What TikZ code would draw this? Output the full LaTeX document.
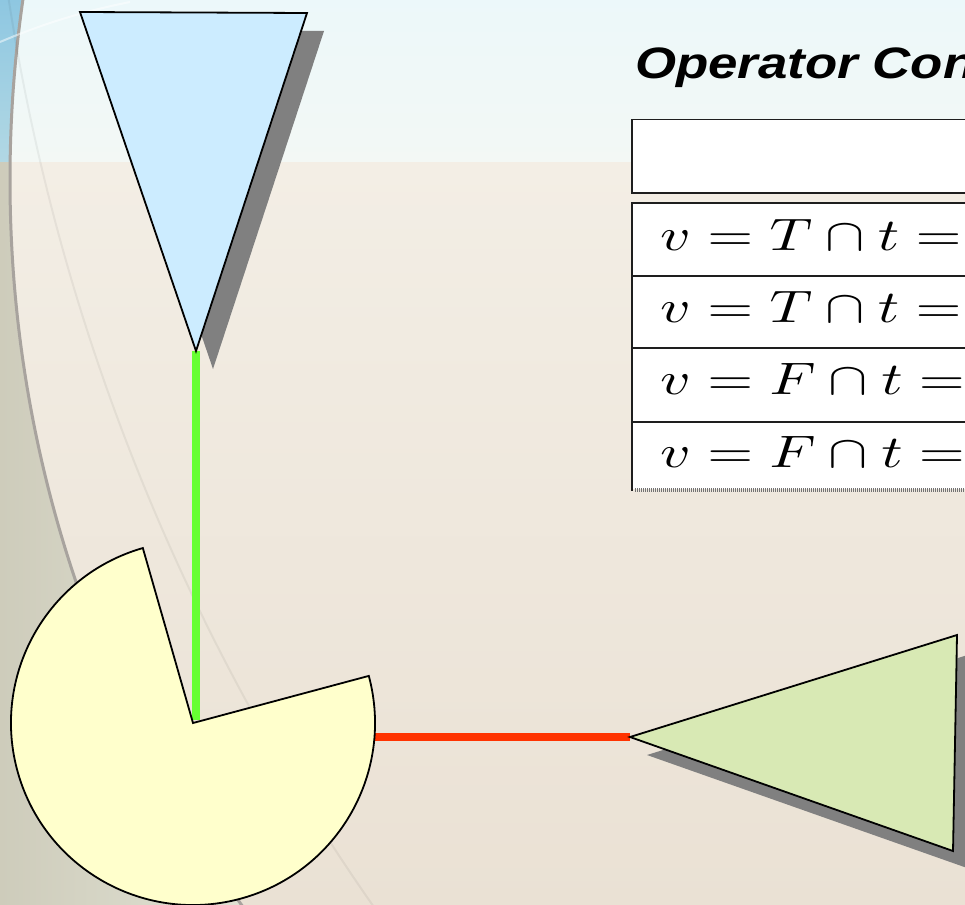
\documentclass[tikz,border=0pt]{standalone}
\usepackage{fontspec}
\usepackage{graphicx}
\newfontfamily\titlefont{Liberation Sans}
\definecolor{bgtopa}{RGB}{236,248,250}
\definecolor{bgtopb}{RGB}{243,248,245}
\definecolor{bgbota}{RGB}{243,238,229}
\definecolor{bgbotb}{RGB}{234,225,212}
\definecolor{leftblue}{RGB}{140,198,225}
\definecolor{leftblueb}{RGB}{178,216,228}
\definecolor{leftgrey}{RGB}{205,203,186}
\definecolor{leftgreyb}{RGB}{226,227,213}
\definecolor{arcgrey}{RGB}{168,163,158}
\definecolor{shadowgray}{RGB}{128,128,128}
\definecolor{tblue}{RGB}{204,236,255}
\definecolor{tgreen}{RGB}{216,233,180}
\definecolor{pyellow}{RGB}{255,255,204}
\definecolor{lgreen}{RGB}{102,255,51}
\definecolor{lred}{RGB}{255,51,0}
\definecolor{tline}{RGB}{30,30,30}
\begin{document}
\begin{tikzpicture}[x=1pt,y=1pt,
  shapeline/.style={line width=1.8pt, draw=black, line join=miter},
  shadowfill/.style={fill=shadowgray},
  conn/.style={line width=8pt},
  rulethick/.style={draw=tline,line width=1.8pt},
  rulethin/.style={draw=tline,line width=1.3pt},
  mathrow/.style={anchor=base west, inner sep=0pt}]
\useasboundingbox (0,0) rectangle (965,-904);
\begin{scope}
\clip (0,0) rectangle (965,-904);
% background
\shade[top color=bgtopa,bottom color=bgtopb] (-5,5) rectangle (970,-163);
\shade[top color=bgbota,bottom color=bgbotb] (-5,-163) rectangle (970,-909);
% left crescent outside the large arc
\begin{scope}[even odd rule]
\clip (-10,10) rectangle (975,-914) (1260,-180) circle (1250);
\shade[top color=leftblue,bottom color=leftblueb] (-10,10) rectangle (300,-163);
\shade[left color=leftgrey,right color=leftgreyb] (-10,-163) rectangle (260,-914);
\end{scope}
\draw[arcgrey, line width=3pt] (1260,-180) circle (1250);
\draw[black, opacity=0.05, line width=2pt] (2152,335.5) circle (2169);
\draw[white, opacity=0.5, line width=2pt] (0,-42) .. controls (40,-25) and (80,-12) .. (130,-2);

% named points
\coordinate (btl) at (80,-12);
\coordinate (btr) at (307,-13);
\coordinate (btip) at (196,-351);
\coordinate (gtip) at (630,-737);
\coordinate (gtr) at (957,-635);
\coordinate (gbr) at (953,-851);
\coordinate (pc) at (193,-723);
\coordinate (pgreen) at (196,-720);
\coordinate (pred) at (374,-737);

% connectors
\draw[conn, lgreen] (btip) -- (pgreen);
\draw[conn, lred] (pred) -- (gtip);

% shadows
\fill[shadowfill] ([shift={(17,-18)}]btl) -- ([shift={(17,-18)}]btr) -- ([shift={(17,-18)}]btip) -- cycle;
\fill[shadowfill] ([shift={(17,-18)}]gtip) -- ([shift={(17,-18)}]gtr) -- ([shift={(17,-18)}]gbr) -- cycle;

% shapes
\draw[shapeline, fill=tblue] (btl) -- (btr) -- (btip) -- cycle;
\draw[shapeline, fill=tgreen] (gtip) -- (gtr) -- (gbr) -- cycle;
\draw[shapeline, fill=pyellow] (pc) -- ++(106:182) arc[start angle=106, end angle=375, radius=182] -- cycle;

% title
\node[anchor=base west, inner sep=0pt] (title) at (635,-79)
  {\scalebox{1.2}[1]{\titlefont\bfseries\itshape\fontsize{44}{50}\selectfont Operator Con}};

% table
\draw[rulethick, fill=white] (632,-119.5) rectangle (980,-193);
\fill[white] (632,-203) rectangle (980,-489);
\draw[rulethick] (980,-203) -- (632,-203) -- (632,-491);
\draw[rulethin] (632,-276) -- (980,-276);
\draw[rulethin] (632,-348) -- (980,-348);
\draw[rulethin] (632,-422) -- (980,-422);
\draw[line width=4pt, black!55, dash pattern=on 1pt off 1pt] (635,-490) -- (980,-490);

\node[mathrow] (r1) at (660,-250) {\scalebox{5.9}[4.55]{$v = T \cap t =$}};
\node[mathrow] (r2) at (660,-322) {\scalebox{5.9}[4.55]{$v = T \cap t =$}};
\node[mathrow] (r3) at (660,-394) {\scalebox{5.9}[4.55]{$v = F \cap t =$}};
\node[mathrow] (r4) at (660,-467) {\scalebox{5.9}[4.55]{$v = F \cap t =$}};
\end{scope}
\end{tikzpicture}
\end{document}
